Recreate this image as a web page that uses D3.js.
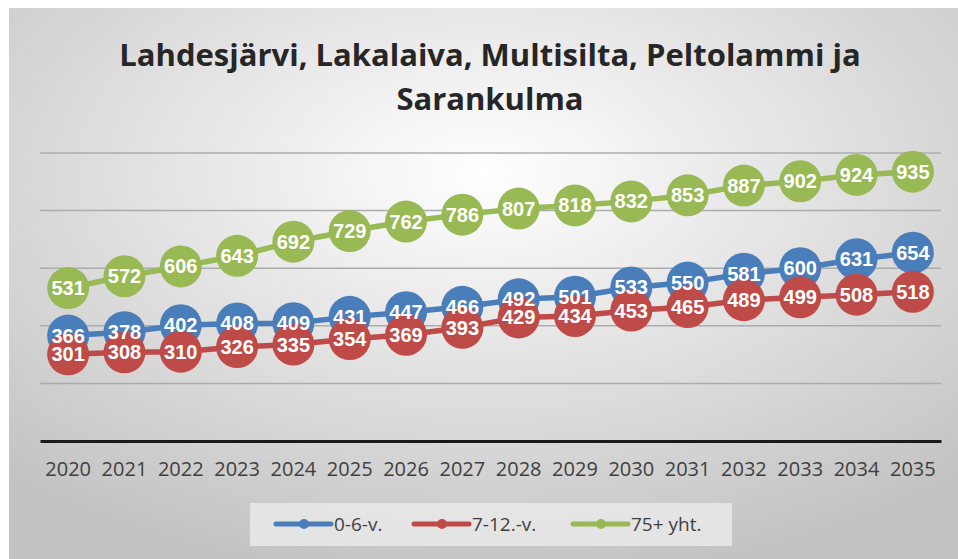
<!DOCTYPE html>
<html>
<head>
<meta charset="utf-8">
<script src="https://cdn.jsdelivr.net/npm/d3@7"></script>
<style>
body { margin: 0; background: #fff; }
text { font-family: "Open Sans", sans-serif; }
</style>
</head>
<body>
<div id="chart"></div>
<script>
let w = 958
let h = 559

let years = ["2020","2021","2022","2023","2024","2025","2026","2027","2028","2029","2030","2031","2032","2033","2034","2035"]
let kids06 = [366,378,402,408,409,431,447,466,492,501,533,550,581,600,631,654]
let kids712 = [301,308,310,326,335,354,369,393,429,434,453,465,489,499,508,518]
let seniors = [531,572,606,643,692,729,762,786,807,818,832,853,887,902,924,935]
let seriesNames = ["0-6-v.", "7-12.-v.", "75+ yht."]
let colors = ["#4a7ebb", "#be4b48", "#98b954"]
let yTicks = [0, 200, 400, 600, 800, 1000]

let series = [kids06, kids712, seniors].map((v, i) => ({ name: seriesNames[i], color: colors[i], values: v }))

let svg = d3.select("#chart")
	.append("svg")
	.attr("width", w)
	.attr("height", h)

// Background with soft radial gradient
let defs = svg.append("defs")
let grad = defs.append("radialGradient")
	.attr("id", "bg")
	.attr("cx", "50%").attr("cy", "30%").attr("r", "75%")
grad.append("stop").attr("offset", "0%").attr("stop-color", "#ffffff")
grad.append("stop").attr("offset", "100%").attr("stop-color", "#c2c2c2")

svg.append("rect")
	.attr("x", 9).attr("y", 8)
	.attr("width", w - 9).attr("height", h - 8)
	.attr("fill", "url(#bg)")

// Title
let title = svg.append("text")
	.attr("text-anchor", "middle")
	.attr("font-size", 31)
	.attr("font-weight", "bold")
	.attr("fill", "#262626")
title.append("tspan").attr("x", 490).attr("y", 66).text("Lahdesjärvi, Lakalaiva, Multisilta, Peltolammi ja")
title.append("tspan").attr("x", 490).attr("y", 110).text("Sarankulma")

let xScale = d3.scaleBand()
	.domain(years)
	.range([40, 941])

let yScale = d3.scaleLinear()
	.domain([0, 1000])
	.range([441, 153])

let cx = (d, i) => xScale(years[i]) + xScale.bandwidth() / 2

// Gridlines
svg.append("g")
	.selectAll("line")
	.data(yTicks.filter(d => d > 0))
	.enter()
	.append("line")
	.attr("x1", 40).attr("x2", 941)
	.attr("y1", d => yScale(d)).attr("y2", d => yScale(d))
	.attr("stroke", "#acacac")
	.attr("stroke-width", 1.5)

// X axis
let xAxis = d3.axisBottom(xScale).tickSize(0).tickPadding(21)
let xg = svg.append("g")
	.attr("transform", "translate(0," + yScale(0) + ")")
	.call(xAxis)
xg.select(".domain").attr("stroke", "#1a1a1a").attr("stroke-width", 3)
xg.selectAll("text")
	.attr("font-size", 20)
	.attr("fill", "#404040")
	.style("font-family", "'Open Sans', sans-serif")

// Lines and markers
let line = d3.line()
	.x(cx)
	.y(d => yScale(d))

let groups = svg.selectAll(".series")
	.data(series)
	.enter()
	.append("g")
	.attr("class", "series")

groups.append("path")
	.attr("d", d => line(d.values))
	.attr("fill", "none")
	.attr("stroke", d => d.color)
	.attr("stroke-width", 5.5)

groups.each(function(s) {
	d3.select(this).selectAll("circle")
		.data(s.values)
		.enter()
		.append("circle")
		.attr("cx", cx)
		.attr("cy", d => yScale(d))
		.attr("r", 21)
		.attr("fill", s.color)
})

// Labels on top of all markers
let labels = svg.append("g")
series.forEach(s => {
	labels.append("g")
		.selectAll("text")
		.data(s.values)
		.enter()
		.append("text")
		.text(d => d)
		.attr("x", cx)
		.attr("y", d => yScale(d) + 7)
		.attr("text-anchor", "middle")
		.attr("font-size", 20)
		.attr("font-weight", "bold")
		.attr("fill", "#ffffff")
		.style("font-family", "'Liberation Sans', Arial, sans-serif")
})

// Legend
let legend = svg.append("g")
legend.append("rect")
	.attr("x", 250).attr("y", 503)
	.attr("width", 482).attr("height", 43)
	.attr("fill", "#e9e9e9")
	.attr("opacity", 0.85)

let legendX = [276, 414, 573]
let items = legend.selectAll(".item")
	.data(series)
	.enter()
	.append("g")
	.attr("transform", (d, i) => "translate(" + legendX[i] + ",524)")

items.append("line")
	.attr("x1", 0).attr("x2", 55)
	.attr("stroke", d => d.color)
	.attr("stroke-width", 5)
	.attr("stroke-linecap", "round")
items.append("circle")
	.attr("cx", 28).attr("r", 5)
	.attr("fill", d => d.color)
items.append("text")
	.attr("x", 58).attr("y", 7)
	.attr("font-size", 19)
	.attr("fill", "#404040")
	.text(d => d.name)
</script>
</body>
</html>
